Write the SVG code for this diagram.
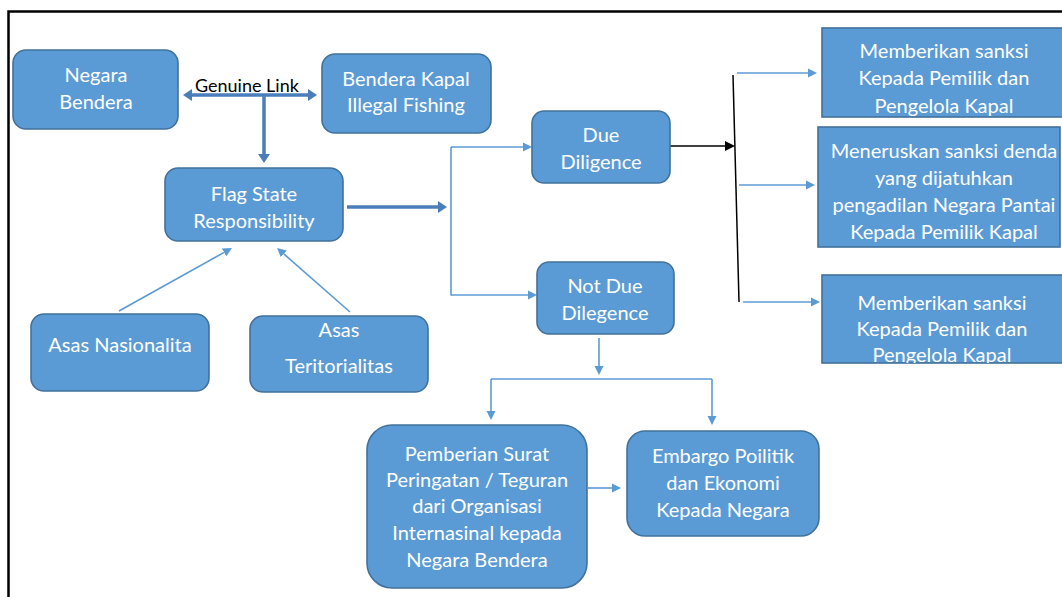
<svg xmlns="http://www.w3.org/2000/svg" width="1062" height="597" viewBox="0 0 1062 597">
<style>
.box{fill:#5b9bd5;stroke:#41719c;stroke-width:1.6}
.t{font-family:Lato,"Liberation Sans",sans-serif;font-size:20px;fill:#ffffff;text-anchor:middle}
.lbl{font-family:Lato,"Liberation Sans",sans-serif;font-size:18px;fill:#000000}
.thick{stroke:#4a7ebb;stroke-width:3.5;fill:none}
.thin{stroke:#5b9bd5;stroke-width:1.6;fill:none}
.blk{stroke:#000000;stroke-width:1.5;fill:none}
</style>
<defs>
<marker id="hThick" markerUnits="userSpaceOnUse" markerWidth="10" markerHeight="12" refX="0" refY="6" orient="auto-start-reverse"><path d="M0,0 L9,6 L0,12 z" fill="#4a7ebb"/></marker>
<marker id="hThin" markerUnits="userSpaceOnUse" markerWidth="10" markerHeight="10" refX="0" refY="5" orient="auto"><path d="M0,0.5 L9,5 L0,9.5 z" fill="#5b9bd5"/></marker>
<marker id="hBlk" markerUnits="userSpaceOnUse" markerWidth="11" markerHeight="11" refX="0" refY="5.5" orient="auto"><path d="M0,0.5 L10,5.5 L0,10.5 z" fill="#000000"/></marker>
</defs>
<rect width="1062" height="597" fill="#ffffff"/>
<path d="M8.5 600 V11.5 H1066" fill="none" stroke="#000000" stroke-width="2.5"/>

<g id="connectors">
<line class="thick" x1="192" y1="95" x2="308" y2="95" marker-start="url(#hThick)" marker-end="url(#hThick)"/>
<line class="thick" x1="264" y1="96" x2="264" y2="154" marker-end="url(#hThick)"/>
<line class="thick" x1="347" y1="207" x2="438" y2="207" marker-end="url(#hThick)"/>
<line class="thin" x1="451" y1="147" x2="451" y2="295.5"/>
<line class="thin" x1="451" y1="147" x2="523" y2="147" marker-end="url(#hThin)"/>
<line class="thin" x1="451" y1="295" x2="528" y2="295" marker-end="url(#hThin)"/>
<line class="blk" x1="670" y1="146" x2="725" y2="146" marker-end="url(#hBlk)"/>
<line class="blk" x1="733" y1="75" x2="739" y2="302"/>
<line class="thin" x1="737" y1="73" x2="808" y2="73" marker-end="url(#hThin)"/>
<line class="thin" x1="739" y1="185" x2="806" y2="185" marker-end="url(#hThin)"/>
<line class="thin" x1="743" y1="302" x2="811" y2="302" marker-end="url(#hThin)"/>
<line class="thin" x1="599" y1="338" x2="599" y2="366" marker-end="url(#hThin)"/>
<line class="thin" x1="491" y1="379" x2="712" y2="379"/>
<line class="thin" x1="491" y1="379" x2="491" y2="411" marker-end="url(#hThin)"/>
<line class="thin" x1="712" y1="379" x2="712" y2="416" marker-end="url(#hThin)"/>
<line class="thin" x1="588" y1="488" x2="612" y2="488" marker-end="url(#hThin)"/>
<line class="thin" x1="119" y1="311" x2="224.1" y2="252.4" marker-end="url(#hThin)"/>
<line class="thin" x1="350" y1="312" x2="283.8" y2="253.9" marker-end="url(#hThin)"/>
</g>
<text class="lbl" x="195" y="92">Genuine Link</text>

<g id="negara-bendera">
<rect class="box" x="13" y="50" width="165" height="79" rx="13"/>
<text class="t" x="96" y="82">Negara</text>
<text class="t" x="96" y="109">Bendera</text>
</g>
<g id="bendera-kapal">
<rect class="box" x="322" y="54" width="169" height="79" rx="13"/>
<text class="t" x="406" y="86">Bendera Kapal</text>
<text class="t" x="406" y="112">Illegal Fishing</text>
</g>
<g id="flag-state">
<rect class="box" x="165" y="168" width="178" height="73" rx="13"/>
<text class="t" x="254" y="201">Flag State</text>
<text class="t" x="254" y="228">Responsibility</text>
</g>
<g id="asas-nasionalita">
<rect class="box" x="31" y="314" width="178" height="77" rx="13"/>
<text class="t" x="120" y="352">Asas Nasionalita</text>
</g>
<g id="asas-teritorialitas">
<rect class="box" x="250" y="316" width="178" height="76" rx="13"/>
<text class="t" x="339" y="337">Asas</text>
<text class="t" x="339" y="373">Teritorialitas</text>
</g>
<g id="due-diligence">
<rect class="box" x="532" y="111" width="138" height="72" rx="12"/>
<text class="t" x="601" y="142">Due</text>
<text class="t" x="601" y="169">Diligence</text>
</g>
<g id="not-due-dilegence">
<rect class="box" x="537" y="262" width="137" height="72" rx="12"/>
<text class="t" x="605" y="293">Not Due</text>
<text class="t" x="605" y="320">Dilegence</text>
</g>
<clipPath id="c1"><rect x="822" y="28" width="250" height="89"/></clipPath>
<clipPath id="c3"><rect x="822" y="275" width="250" height="88"/></clipPath>
<g id="sanksi-1">
<rect class="box" x="822" y="28" width="246" height="89"/>
<g clip-path="url(#c1)">
<text class="t" x="944" y="58">Memberikan sanksi</text>
<text class="t" x="944" y="85">Kepada Pemilik dan</text>
<text class="t" x="944" y="113">Pengelola Kapal</text>
</g>
</g>
<g id="sanksi-denda">
<rect class="box" x="818" y="127" width="242" height="120"/>
<text class="t" x="944" y="158">Meneruskan sanksi denda</text>
<text class="t" x="944" y="185">yang dijatuhkan</text>
<text class="t" x="944" y="212">pengadilan Negara Pantai</text>
<text class="t" x="944" y="239">Kepada Pemilik Kapal</text>
</g>
<g id="sanksi-2">
<rect class="box" x="822" y="275" width="246" height="88"/>
<g clip-path="url(#c3)">
<text class="t" x="942" y="310">Memberikan sanksi</text>
<text class="t" x="942" y="336">Kepada Pemilik dan</text>
<text class="t" x="942" y="362">Pengelola Kapal</text>
</g>
</g>
<g id="pemberian-surat">
<rect class="box" x="367" y="425" width="220" height="163" rx="25"/>
<text class="t" x="477" y="461">Pemberian Surat</text>
<text class="t" x="477" y="487">Peringatan / Teguran</text>
<text class="t" x="477" y="513">dari Organisasi</text>
<text class="t" x="477" y="540">Internasinal kepada</text>
<text class="t" x="477" y="567">Negara Bendera</text>
</g>
<g id="embargo">
<rect class="box" x="627" y="431" width="192" height="105" rx="18"/>
<text class="t" x="723" y="463">Embargo Poilitik</text>
<text class="t" x="723" y="490">dan Ekonomi</text>
<text class="t" x="723" y="517">Kepada Negara</text>
</g>
</svg>
